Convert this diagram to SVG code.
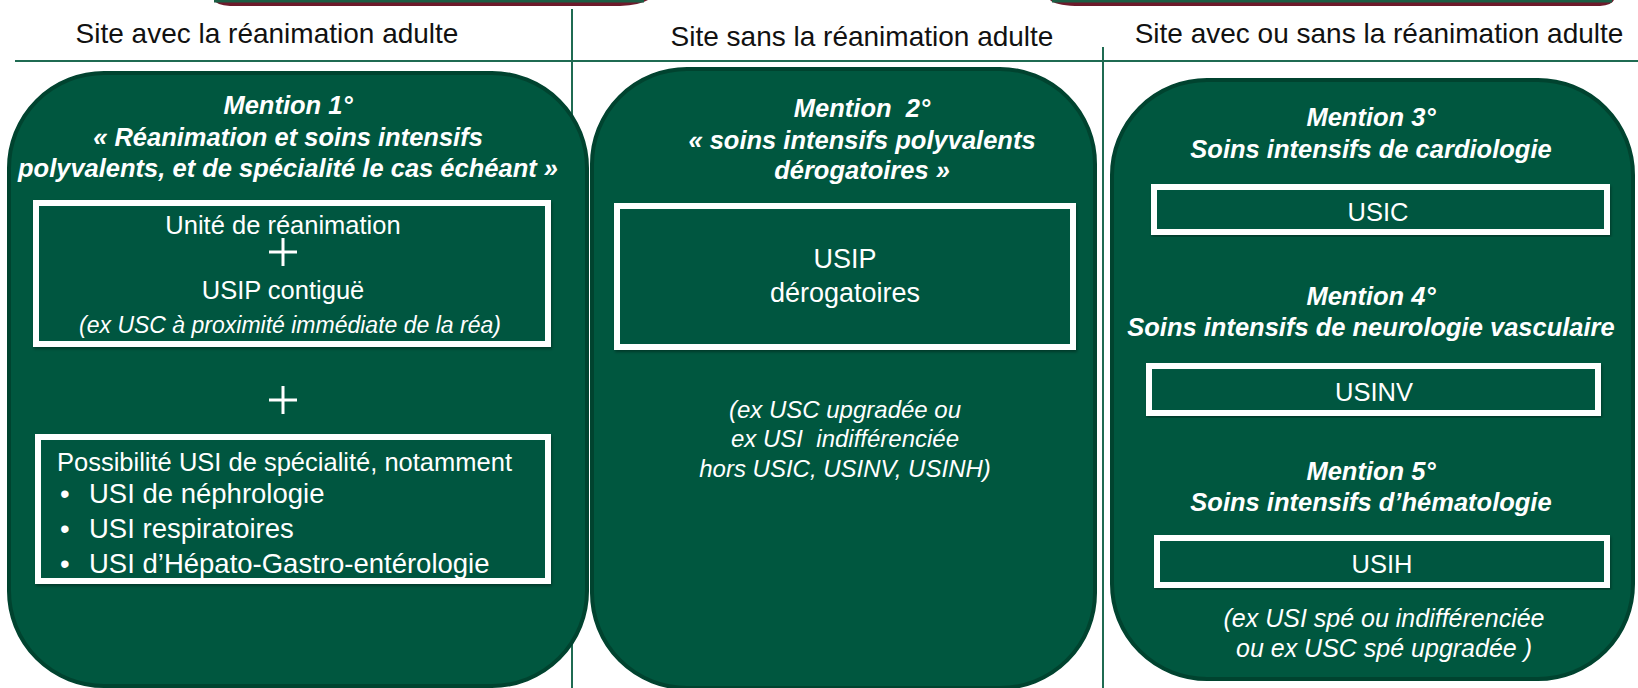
<svg xmlns="http://www.w3.org/2000/svg" width="1638" height="688" viewBox="0 0 1638 688">
<defs>
<style>
.hdr{font-family:"Liberation Sans",Arial,sans-serif;font-size:28px;fill:#111;text-anchor:middle}
.panel{fill:#00573f;stroke:#00432f;stroke-width:4}
.ttl{font-family:"Liberation Sans",Arial,sans-serif;font-size:25.5px;font-weight:bold;font-style:italic;fill:#fff;text-anchor:middle}
.box{fill:#00573f;stroke:#fff;stroke-width:6}
.txt{font-family:"Liberation Sans",Arial,sans-serif;font-size:25.5px;fill:#fff;text-anchor:middle}
.it{font-family:"Liberation Sans",Arial,sans-serif;font-size:23px;font-style:italic;fill:#fff;text-anchor:middle}
.lt{font-family:"Liberation Sans",Arial,sans-serif;font-size:25.5px;fill:#fff}
.bl{font-family:"Liberation Sans",Arial,sans-serif;font-size:27.5px;fill:#fff}
.rule{stroke:#1f6b52;stroke-width:2;fill:none}
.plus{stroke:#fff;stroke-width:3}
</style>
<filter id="sh" x="-5%" y="-5%" width="110%" height="115%"><feDropShadow dx="1" dy="2" stdDeviation="1.5" flood-color="#000" flood-opacity="0.35"/></filter>
</defs>
<rect width="1638" height="688" fill="#fff"/>
<g id="topbars">
<path d="M214,0 H648 Q640,5 620,6 H230 Q216,5 214,0 Z" fill="#6d1a2b"/>
<rect x="214" y="0" width="430" height="2.5" fill="#1b5e44"/>
<path d="M1050,0 H1614 Q1612,5 1600,6 H1075 Q1055,5 1050,0 Z" fill="#6d1a2b"/>
<rect x="1052" y="0" width="560" height="2.5" fill="#1b5e44"/>
</g>
<g id="rules">
<line class="rule" x1="15" y1="61" x2="1638" y2="61"/>
<line class="rule" x1="572" y1="9" x2="572" y2="688"/>
<line class="rule" x1="1103" y1="47" x2="1103" y2="688"/>
</g>
<g id="headers">
<text class="hdr" x="267" y="43">Site avec la réanimation adulte</text>
<text class="hdr" x="862" y="46">Site sans la réanimation adulte</text>
<text class="hdr" x="1379" y="43">Site avec ou sans la réanimation adulte</text>
</g>
<g id="panel1">
<rect class="panel" x="9" y="73" width="578" height="613" rx="95"/>
<text class="ttl" x="288" y="114">Mention 1°</text>
<text class="ttl" x="288" y="146">« Réanimation et soins intensifs</text>
<text class="ttl" x="288" y="177">polyvalents, et de spécialité le cas échéant »</text>
<g id="box1">
<rect class="box" x="36" y="203" width="512" height="141" filter="url(#sh)"/>
<text class="txt" x="283" y="234">Unité de réanimation</text>
<line class="plus" x1="269" y1="252" x2="297" y2="252"/><line class="plus" x1="283" y1="238" x2="283" y2="266"/>
<text class="txt" x="283" y="299">USIP contiguë</text>
<text class="it" x="290" y="333">(ex USC à proximité immédiate de la réa)</text>
</g>
<line class="plus" x1="269" y1="400" x2="297" y2="400"/><line class="plus" x1="283" y1="386" x2="283" y2="414"/>
<g id="box2">
<rect class="box" x="38" y="437" width="510" height="144" filter="url(#sh)"/>
<text class="lt" x="57" y="471">Possibilité USI de spécialité, notamment</text>
<text class="bl" x="60" y="503">•</text><text class="bl" x="89" y="503">USI de néphrologie</text>
<text class="bl" x="60" y="538">•</text><text class="bl" x="89" y="538">USI respiratoires</text>
<text class="bl" x="60" y="573">•</text><text class="bl" x="89" y="573">USI d’Hépato-Gastro-entérologie</text>
</g>
</g>
<g id="panel2">
<rect class="panel" x="592" y="69" width="503" height="619" rx="95"/>
<text class="ttl" x="862" y="117" xml:space="preserve">Mention  2°</text>
<text class="ttl" x="862" y="149">« soins intensifs polyvalents</text>
<text class="ttl" x="862" y="179">dérogatoires »</text>
<g id="box3">
<rect class="box" x="617" y="206" width="456" height="141" filter="url(#sh)"/>
<text class="txt" x="845" y="268" style="font-size:27px">USIP</text>
<text class="txt" x="845" y="302" style="font-size:27px">dérogatoires</text>
</g>
<text class="it" x="845" y="418" style="font-size:24px">(ex USC upgradée ou</text>
<text class="it" x="845" y="447" style="font-size:24px" xml:space="preserve">ex USI  indifférenciée</text>
<text class="it" x="845" y="477" style="font-size:24px">hors USIC, USINV, USINH)</text>
</g>
<g id="panel3">
<rect class="panel" x="1112" y="80" width="521" height="599" rx="95"/>
<text class="ttl" x="1371" y="126">Mention 3°</text>
<text class="ttl" x="1371" y="158">Soins intensifs de cardiologie</text>
<g id="usic">
<rect class="box" x="1154" y="187" width="453" height="45" filter="url(#sh)"/>
<text class="txt" x="1378" y="221">USIC</text>
</g>
<text class="ttl" x="1371" y="305">Mention 4°</text>
<text class="ttl" x="1371" y="336">Soins intensifs de neurologie vasculaire</text>
<g id="usinv">
<rect class="box" x="1149" y="366" width="449" height="47" filter="url(#sh)"/>
<text class="txt" x="1374" y="401">USINV</text>
</g>
<text class="ttl" x="1371" y="480">Mention 5°</text>
<text class="ttl" x="1371" y="511">Soins intensifs d’hématologie</text>
<g id="usih">
<rect class="box" x="1157" y="538" width="450" height="47" filter="url(#sh)"/>
<text class="txt" x="1382" y="573">USIH</text>
</g>
<text class="it" x="1384" y="627" style="font-size:25px">(ex USI spé ou indifférenciée</text>
<text class="it" x="1384" y="657" style="font-size:25px">ou ex USC spé upgradée )</text>
</g>
</svg>
